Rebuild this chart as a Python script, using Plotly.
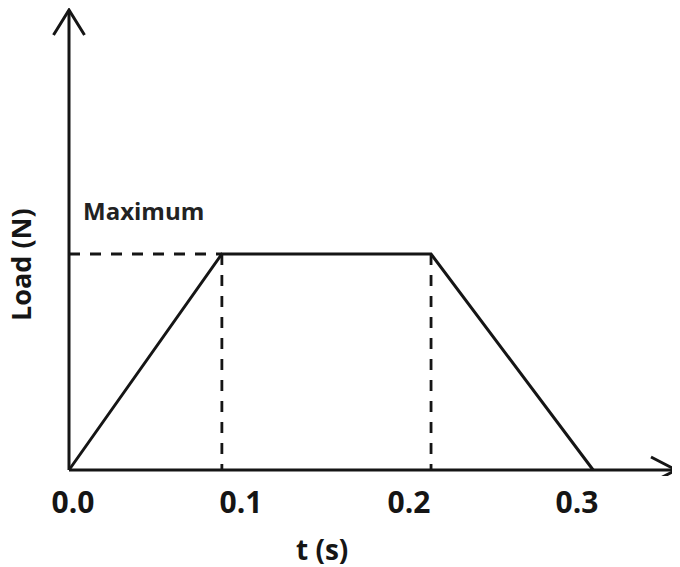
import plotly.graph_objects as go

# ---- data ----
t_points = [0.0, 0.091, 0.2155, 0.312]      # time (s) of the trapezoid corners
load_points = [0.0, 1.0, 1.0, 0.0]          # normalised load (Maximum = 1)
tick_vals = [0.0, 0.1, 0.2, 0.3]
tick_text = ["0.0", "0.1", "0.2", "0.3"]
max_label = "Maximum"
x_title = "t (s)"
y_title = "Load (N)"

# ---- layout geometry (figure pixels; the page adds an 8px body margin) ----
W, H = 672, 559
X0_PX, Y0_PX = 61, 462          # origin position inside the figure
ML, MR, MT = 32, 0, 0
PLOT_BOTTOM = 468
MB = H - PLOT_BOTTOM
PX_PER_T = 1680.0     # pixels per second
PX_PER_LOAD = 216.0   # pixels per load unit
x_range = [(ML - X0_PX) / PX_PER_T, (W - MR - X0_PX) / PX_PER_T]
y_range = [-(PLOT_BOTTOM - Y0_PX) / PX_PER_LOAD, (Y0_PX - MT) / PX_PER_LOAD]

x_axis_end = (668 - X0_PX) / PX_PER_T
y_axis_end = (Y0_PX - 2) / PX_PER_LOAD
ax_head_dx = 25 / PX_PER_T
ax_head_dy = 13 / PX_PER_LOAD
ay_head_dx = 15.5 / PX_PER_T
ay_head_dy = 25 / PX_PER_LOAD

INK = "#151515"
FONT = "Open Sans"

fig = go.Figure()

# axes with open arrow heads
fig.add_trace(go.Scatter(
    x=[0, x_axis_end, None, x_axis_end - ax_head_dx, x_axis_end, x_axis_end - ax_head_dx],
    y=[0, 0, None, ax_head_dy, 0, -ax_head_dy],
    mode="lines", line=dict(color=INK, width=3), hoverinfo="skip", showlegend=False))
fig.add_trace(go.Scatter(
    x=[0, 0, None, -ay_head_dx, 0, ay_head_dx],
    y=[0, y_axis_end, None, y_axis_end - ay_head_dy, y_axis_end, y_axis_end - ay_head_dy],
    mode="lines", line=dict(color=INK, width=3), hoverinfo="skip", showlegend=False))

# dashed guide lines
t1, t2 = t_points[1], t_points[2]
lmax = load_points[1]
fig.add_trace(go.Scatter(
    x=[0, t1, None, t1, t1, None, t2, t2],
    y=[lmax, lmax, None, lmax, 0, None, lmax, 0],
    mode="lines", line=dict(color=INK, width=2.8, dash="11px,10px"),
    hoverinfo="skip", showlegend=False))

# load profile
fig.add_trace(go.Scatter(
    x=t_points, y=load_points, mode="lines",
    line=dict(color=INK, width=3), showlegend=False))

fig.add_annotation(x=0, y=lmax, xref="x", yref="y", text=f"<b>{max_label}</b>",
                   showarrow=False, xanchor="left", yanchor="middle",
                   xshift=12, yshift=44, font=dict(family=FONT, size=24, color="#222"))
fig.add_annotation(x=0, y=0, xref="x", yref="y", text=f"<b>{x_title}</b>",
                   showarrow=False, xanchor="center", yanchor="middle",
                   xshift=253, yshift=-79, font=dict(family=FONT, size=28, color=INK))
fig.add_annotation(x=0, y=0, xref="x", yref="y", text=f"<b>{y_title}</b>",
                   showarrow=False, xanchor="center", yanchor="middle", textangle=-90,
                   xshift=-49, yshift=205, font=dict(family=FONT, size=27, color=INK))

fig.update_layout(
    width=W, height=H,
    margin=dict(l=ML, r=MR, t=MT, b=MB, pad=0),
    paper_bgcolor="white", plot_bgcolor="white",
    showlegend=False,
    xaxis=dict(range=x_range, showgrid=False, zeroline=False, showline=False,
               tickmode="array", tickvals=tick_vals, ticktext=tick_text,
               ticks="outside", ticklen=0, tickcolor="rgba(0,0,0,0)",
               ticklabelshift=4,
               tickfont=dict(family=FONT, size=30, color=INK, weight="bold")),
    yaxis=dict(range=y_range, showgrid=False, zeroline=False, showline=False,
               showticklabels=False, ticks=""),
)

fig.write_html("out.html")
